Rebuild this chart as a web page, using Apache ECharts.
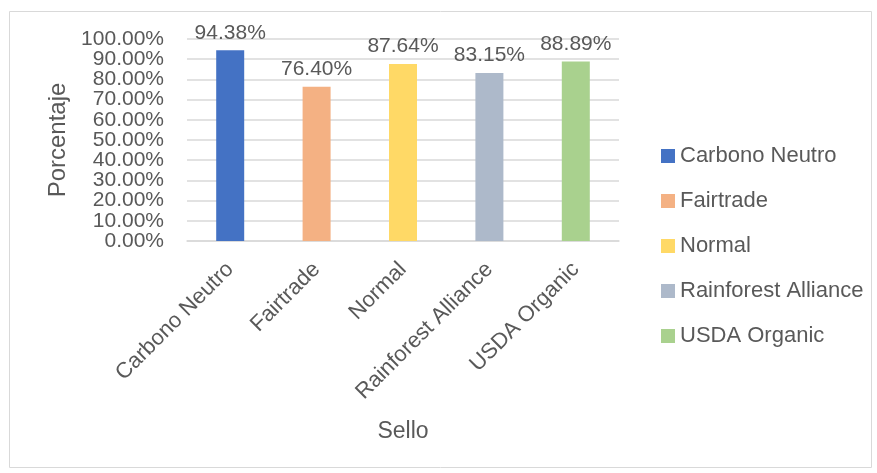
<!DOCTYPE html>
<html><head><meta charset="utf-8">
<script src="https://cdn.jsdelivr.net/npm/echarts@6/dist/echarts.min.js"></script>
<style>html,body{margin:0;padding:0;background:#fff}#c{width:877px;height:473px}</style>
</head><body><div id="c"></div>
<script>
const categories = ['Carbono Neutro', 'Fairtrade', 'Normal', 'Rainforest Alliance', 'USDA Organic'];
const values = [94.38, 76.40, 87.64, 83.15, 88.89];
const colors = ['#4472C4', '#F4B183', '#FFD966', '#ADB9CA', '#A9D18E'];
const yTicks = [0, 10, 20, 30, 40, 50, 60, 70, 80, 90, 100];

const FONT = 'Liberation Sans';
const TXT = '#595959';

const series = categories.map((name, i) => ({
  name: name,
  type: 'bar',
  barWidth: 28,
  barGap: '-100%',
  itemStyle: { color: colors[i] },
  label: {
    show: true, position: 'top', distance: 7,
    fontFamily: FONT, fontSize: 21, color: TXT,
    formatter: p => p.value.toFixed(2) + '%'
  },
  data: categories.map((c, j) => j === i ? values[i] : '-')
}));

const yLabelBase = {
  margin: 23, fontFamily: FONT, fontSize: 21, color: TXT,
  hideOverlap: false,
  formatter: v => v.toFixed(2) + '%'
};

const chart = echarts.init(document.getElementById('c'));
chart.setOption({
  animation: false,
  textStyle: { fontFamily: FONT },
  graphic: [{
    type: 'rect', left: 7, top: 9,
    shape: { width: 862, height: 456 },
    style: { fill: 'none', stroke: '#d9d9d9', lineWidth: 1 },
    silent: true
  }],
  grid: { left: 187, right: 258, top: 39, bottom: 232 },
  legend: {
    orient: 'vertical', left: 661, top: 145, padding: 0,
    itemWidth: 14, itemHeight: 14, itemGap: 23,
    icon: 'rect',
    textStyle: { fontFamily: FONT, fontSize: 22, color: TXT, padding: [0, 0, 0, 0] },
    data: categories
  },
  xAxis: {
    type: 'category', data: categories,
    name: 'Sello', nameLocation: 'middle', nameGap: 179,
    nameTextStyle: { fontFamily: FONT, fontSize: 23, color: TXT },
    axisLine: { lineStyle: { color: '#d9d9d9', width: 1.5 } },
    axisTick: { show: false },
    axisLabel: { rotate: 45, margin: 25, fontFamily: FONT, fontSize: 22, color: TXT, interval: 0 }
  },
  yAxis: [{
    type: 'value', position: 'left', min: yTicks[0], max: yTicks[yTicks.length - 1], interval: 10,
    name: 'Porcentaje', nameLocation: 'middle', nameGap: 117,
    nameTextStyle: { fontFamily: FONT, fontSize: 24, color: TXT },
    axisLine: { show: false }, axisTick: { show: false },
    splitLine: { lineStyle: { color: '#d9d9d9', width: 1.5 } },
    axisLabel: Object.assign({}, yLabelBase, { customValues: yTicks.filter((v, i) => i % 2 === 0) })
  }, {
    type: 'value', position: 'left', offset: 0, min: yTicks[0], max: yTicks[yTicks.length - 1], interval: 10,
    axisLine: { show: false }, axisTick: { show: false }, splitLine: { show: false },
    axisLabel: Object.assign({}, yLabelBase, { customValues: yTicks.filter((v, i) => i % 2 === 1) })
  }],
  series: series
});
</script></body></html>
